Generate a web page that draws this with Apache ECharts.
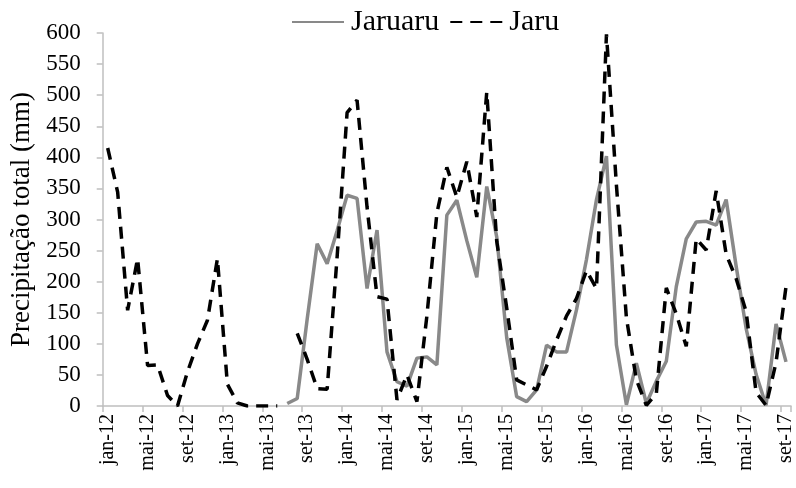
<!DOCTYPE html>
<html>
<head>
<meta charset="utf-8">
<script src="https://cdn.jsdelivr.net/npm/echarts@6/dist/echarts.min.js"></script>
<style>
html,body{margin:0;padding:0;background:#fff;}
#chart{width:796px;height:488px;}
</style>
</head>
<body>
<div id="chart"></div>
<script>
var categories = [
'jan-12','fev-12','mar-12','abr-12','mai-12','jun-12','jul-12','ago-12','set-12','out-12','nov-12','dez-12',
'jan-13','fev-13','mar-13','abr-13','mai-13','jun-13','jul-13','ago-13','set-13','out-13','nov-13','dez-13',
'jan-14','fev-14','mar-14','abr-14','mai-14','jun-14','jul-14','ago-14','set-14','out-14','nov-14','dez-14',
'jan-15','fev-15','mar-15','abr-15','mai-15','jun-15','jul-15','ago-15','set-15','out-15','nov-15','dez-15',
'jan-16','fev-16','mar-16','abr-16','mai-16','jun-16','jul-16','ago-16','set-16','out-16','nov-16','dez-16',
'jan-17','fev-17','mar-17','abr-17','mai-17','jun-17','jul-17','ago-17','set-17'
];

var jaruaru = [
null,null,null,null,null,null,null,null,null,null,null,null,
null,null,null,null,null,null,4,12,140,261,229,282,
339,334,189,283,87,39,32,77,79,66,307,331,
266,207,353,272,110,15,7,26,98,87,87,155,
236,332,402,98,2,69,4,40,72,192,269,296,
297,291,332,225,125,51,1,132,71
];

var jaru = [
415,344,154,237,65,66,17,0,55,100,138,237,
35,5,0,0,0,0,null,117,75,28,27,240,
472,492,320,176,172,10,50,7,145,310,384,336,
393,304,505,265,158,42,34,26,64,106,145,173,
218,189,598,355,142,42,1,20,190,148,96,269,
251,346,244,205,152,22,1,70,192
];

var yTicks = {min: 0, max: 600, step: 50};

var chart = echarts.init(document.getElementById('chart'), null, {renderer: 'canvas'});
var serif = '"Liberation Serif", "Times New Roman", serif';
chart.setOption({
  animation: false,
  backgroundColor: '#ffffff',
  legend: {
    top: 2,
    left: 286,
    itemWidth: 52,
    itemHeight: 14,
    itemGap: 10,
    itemStyle: {opacity: 0},
    textStyle: {fontFamily: serif, fontSize: 30, color: '#000', padding: [0, 0, 0, 2]},
    data: ['Jaruaru', 'Jaru']
  },
  grid: {left: 102.7, right: 3.3, top: 33, bottom: 82, containLabel: false},
  xAxis: {
    type: 'category',
    data: categories,
    boundaryGap: true,
    axisLine: {lineStyle: {color: '#bfbfbf', width: 1.5}},
    axisTick: {show: true, interval: 3, length: 6, lineStyle: {color: '#bfbfbf', width: 1.5}},
    axisLabel: {interval: 3, rotate: 90, margin: 8, fontFamily: serif, fontSize: 20, color: '#000'},
    splitLine: {show: false}
  },
  yAxis: {
    type: 'value',
    min: yTicks.min,
    max: yTicks.max,
    interval: yTicks.step,
    name: 'Precipitação total (mm)',
    nameLocation: 'middle',
    nameGap: 67,
    nameTextStyle: {fontFamily: serif, fontSize: 27, color: '#000'},
    axisLine: {show: true, lineStyle: {color: '#bfbfbf', width: 1.5}},
    axisTick: {show: true, length: 6, lineStyle: {color: '#bfbfbf', width: 1.5}},
    axisLabel: {margin: 22, fontFamily: serif, fontSize: 23, color: '#000'},
    splitLine: {show: false}
  },
  series: [
    {
      name: 'Jaruaru',
      type: 'line',
      data: jaruaru,
      symbol: 'none',
      connectNulls: false,
      itemStyle: {color: '#898989'},
      lineStyle: {color: '#898989', width: 3.5}
    },
    {
      name: 'Jaru',
      type: 'line',
      data: jaru,
      symbol: 'none',
      connectNulls: false,
      itemStyle: {color: '#000000'},
      lineStyle: {color: '#000000', width: 3.5, type: [12, 8]}
    }
  ]
});
</script>
</body>
</html>
